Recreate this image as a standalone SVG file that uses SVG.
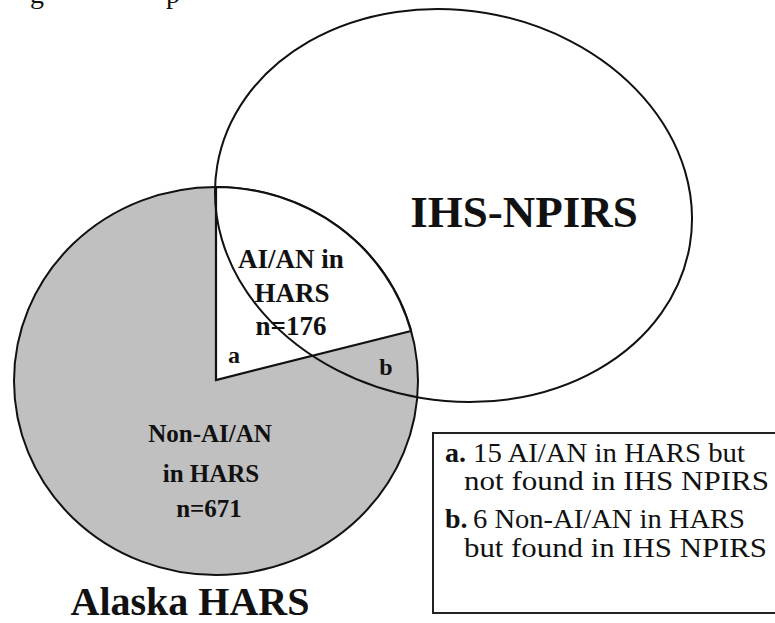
<svg xmlns="http://www.w3.org/2000/svg" width="775" height="623" viewBox="0 0 775 623">
<style>
.ln{fill:none;stroke:#111;stroke-width:2}
.b{font-family:"Liberation Serif","Times New Roman",serif;font-weight:bold;fill:#111;text-anchor:middle}
.r{font-family:"Liberation Serif","Times New Roman",serif;fill:#111;font-size:28px}
.rb{font-family:"Liberation Serif","Times New Roman",serif;fill:#111;font-size:28px;font-weight:bold}
</style>
<rect width="775" height="623" fill="#fff"/>
<g id="caption">
<text class="r" x="30" y="3" font-size="26">g</text>
<text class="r" x="166" y="3" font-size="26">p</text>
</g>
<g id="alaska-hars">
<ellipse cx="216" cy="381" rx="202" ry="194" fill="#c0c0c0" stroke="#111" stroke-width="2"/>
<path d="M216,380 L216,187 A202,194 0 0 1 411,331 Z" fill="#fff" stroke="#111" stroke-width="2.2" stroke-linejoin="miter"/>
<text class="b" x="190" y="615" font-size="40">Alaska HARS</text>
<text class="b" x="210" y="442" font-size="25">Non-AI/AN</text>
<text class="b" x="211" y="482" font-size="25">in HARS</text>
<text class="b" x="209" y="517" font-size="25">n=671</text>
</g>
<g id="ihs-npirs">
<ellipse class="ln" cx="453.5" cy="205.5" rx="239.6" ry="195.2" transform="rotate(9.5 453.5 205.5)"/>
<text class="b" x="524" y="227" font-size="45">IHS-NPIRS</text>
</g>
<g id="overlap">
<text class="b" x="291" y="268" font-size="27">AI/AN in</text>
<text class="b" x="292" y="302" font-size="27">HARS</text>
<text class="b" x="291" y="335" font-size="27">n=176</text>
<text class="b" x="234" y="363" font-size="24">a</text>
<text class="b" x="386" y="375" font-size="24">b</text>
</g>
<g id="legend">
<rect x="433" y="433" width="345" height="180" fill="#fff" stroke="#222" stroke-width="2"/>
<text class="rb" x="445" y="462">a.</text>
<text class="r" x="473" y="462" textLength="272" lengthAdjust="spacingAndGlyphs">15 AI/AN in HARS but</text>
<text class="r" x="464" y="490" textLength="305" lengthAdjust="spacingAndGlyphs">not found in IHS NPIRS</text>
<text class="rb" x="445" y="528">b.</text>
<text class="r" x="473" y="528" textLength="272" lengthAdjust="spacingAndGlyphs">6 Non-AI/AN in HARS</text>
<text class="r" x="464" y="557" textLength="303" lengthAdjust="spacingAndGlyphs">but found in IHS NPIRS</text>
</g>
</svg>
